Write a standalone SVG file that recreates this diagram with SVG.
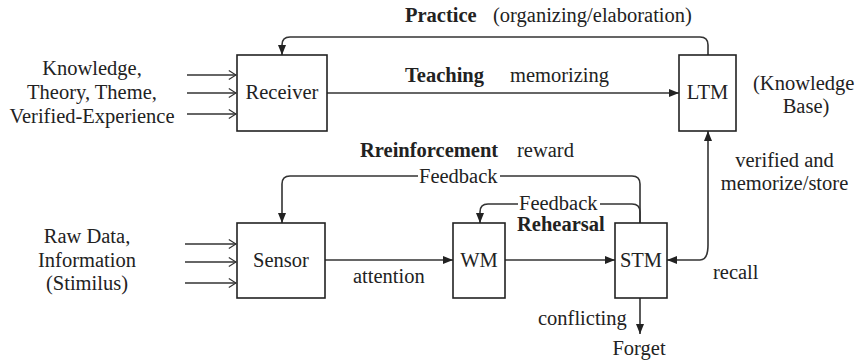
<svg xmlns="http://www.w3.org/2000/svg" width="863" height="364" viewBox="0 0 863 364" font-family="'Liberation Serif', 'Times New Roman', 'DejaVu Serif', serif">
<style>
text{font-family:'Liberation Serif','Times New Roman','DejaVu Serif',serif;font-size:20.5px;fill:#222}
.b{font-weight:bold}
.m{text-anchor:middle}
.box{fill:#fff;stroke:#222;stroke-width:1.6}
.ln{fill:none;stroke:#333;stroke-width:1.6}
</style>
<defs>
<marker id="fa" viewBox="0 0 10 10" refX="10" refY="5" markerWidth="10" markerHeight="10" markerUnits="userSpaceOnUse" orient="auto">
<path d="M0,1 L10,5 L0,9 Z" fill="#222"/>
</marker>
<marker id="oa" viewBox="0 0 10 12" refX="9" refY="6" markerWidth="9" markerHeight="11" markerUnits="userSpaceOnUse" orient="auto">
<path d="M1,1 L9,6 L1,11" fill="none" stroke="#333" stroke-width="1.3"/>
</marker>
</defs>
<g id="connectors">
<path class="ln" d="M187,75 H236" marker-end="url(#oa)"/>
<path class="ln" d="M187,93 H236" marker-end="url(#oa)"/>
<path class="ln" d="M187,114 H236" marker-end="url(#oa)"/>
<path class="ln" d="M185,244 H236" marker-end="url(#oa)"/>
<path class="ln" d="M185,262 H236" marker-end="url(#oa)"/>
<path class="ln" d="M185,283 H236" marker-end="url(#oa)"/>
<path class="ln" d="M708,55 V45 Q708,37 700,37 H290 Q282,37 282,45 V55" marker-end="url(#fa)"/>
<path class="ln" d="M327,93 H679" marker-end="url(#fa)"/>
<path class="ln" d="M640,223 V184 Q640,176 632,176 H500"/>
<path class="ln" d="M418,176 H290 Q282,176 282,184 V223" marker-end="url(#fa)"/>
<path class="ln" d="M640,223 V212 Q640,204 632,204 H600"/>
<path class="ln" d="M518,204 H488 Q480,204 480,212 V223" marker-end="url(#fa)"/>
<path class="ln" d="M325,260 H453" marker-end="url(#fa)"/>
<path class="ln" d="M505,260 H615" marker-end="url(#fa)"/>
<path class="ln" d="M708,245 Q708,260 700,260 H667" marker-end="url(#fa)"/>
<path class="ln" d="M708,245 V131" marker-end="url(#fa)"/>
<path class="ln" d="M640,298 V334" marker-end="url(#fa)"/>
</g>
<g id="receiver"><rect class="box" x="237" y="55" width="90" height="76"/><text class="m" x="282" y="99">Receiver</text></g>
<g id="ltm"><rect class="box" x="679" y="55" width="57" height="76"/><text class="m" x="707.5" y="99">LTM</text></g>
<g id="sensor"><rect class="box" x="237" y="223" width="88" height="75"/><text class="m" x="281" y="267">Sensor</text></g>
<g id="wm"><rect class="box" x="453" y="223" width="52" height="75"/><text class="m" x="479" y="267">WM</text></g>
<g id="stm"><rect class="box" x="615" y="223" width="52" height="75"/><text class="m" x="641" y="267">STM</text></g>
<g id="labels">
<text class="m" x="92" y="75">Knowledge,</text>
<text class="m" x="92" y="99">Theory, Theme,</text>
<text class="m" x="92" y="123">Verified-Experience</text>
<text class="m" x="87" y="243">Raw Data,</text>
<text class="m" x="87" y="267">Information</text>
<text class="m" x="87" y="290">(Stimilus)</text>
<text class="b" x="405" y="22">Practice</text>
<text x="493" y="22">(organizing/elaboration)</text>
<text class="b" x="405" y="82">Teaching</text>
<text x="510" y="82">memorizing</text>
<text x="753" y="90">(Knowledge</text>
<text class="m" x="806" y="113">Base)</text>
<text class="b" x="360" y="157">Rreinforcement</text>
<text x="517" y="157">reward</text>
<text x="419" y="183">Feedback</text>
<text x="519" y="210">Feedback</text>
<text class="b" x="517" y="231">Rehearsal</text>
<text class="m" x="784.5" y="167">verified and</text>
<text class="m" x="784.5" y="190">memorize/store</text>
<text x="353" y="283">attention</text>
<text x="713" y="279">recall</text>
<text x="538" y="325">conflicting</text>
<text class="m" x="639" y="355">Forget</text>
</g>
</svg>
